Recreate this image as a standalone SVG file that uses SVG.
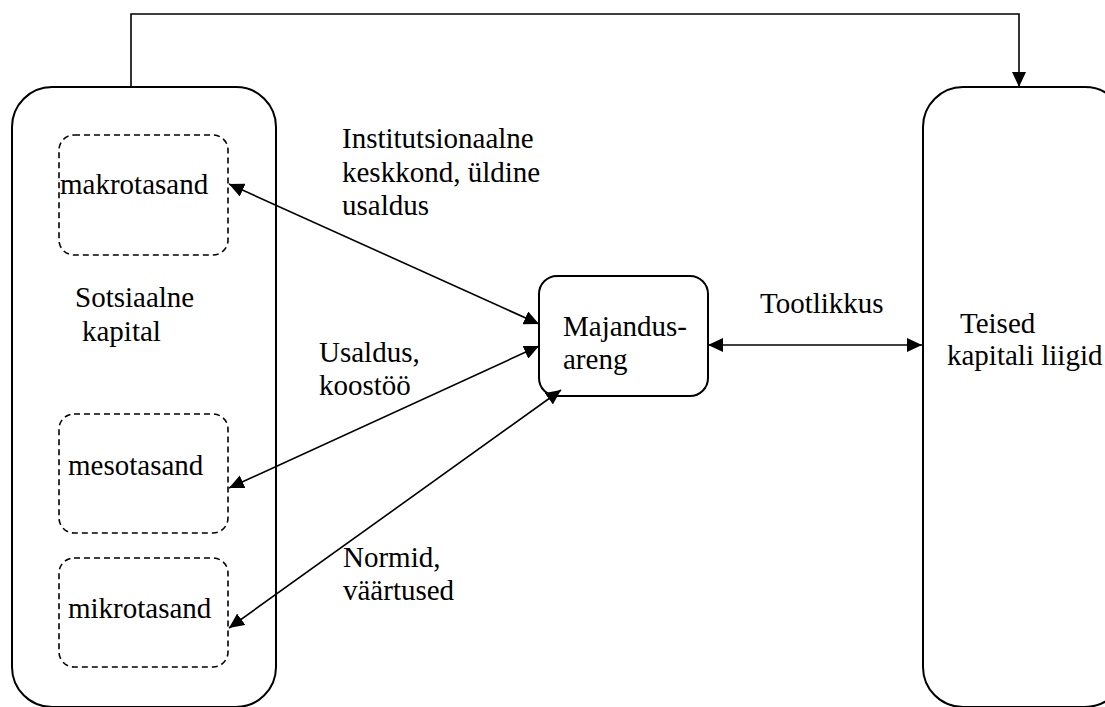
<svg xmlns="http://www.w3.org/2000/svg" width="1105" height="707" viewBox="0 0 1105 707">
<defs>
<marker id="ah" markerUnits="userSpaceOnUse" markerWidth="16" markerHeight="14" refX="15" refY="7" orient="auto-start-reverse">
<path d="M0,0 L15,7 L0,14 Z" fill="#000"/>
</marker>
<style>
.box{fill:none;stroke:#000;stroke-width:2}
.dash{fill:none;stroke:#000;stroke-width:1.6;stroke-dasharray:6 4}
.con{fill:none;stroke:#000;stroke-width:1.6}
.t{font-family:'Liberation Serif','Times New Roman',serif;font-size:29px;fill:#000}
</style>
</defs>
<rect width="1105" height="707" fill="#fff"/>
<g id="sotsiaalne-kapital">
<rect class="box" x="12" y="87" width="264" height="620" rx="40"/>
<text class="t" font-family="Liberation Serif" x="75" y="307">Sotsiaalne</text>
<text class="t" font-family="Liberation Serif" x="82" y="341">kapital</text>
</g>
<g id="makrotasand">
<rect class="dash" x="59" y="135" width="169" height="120" rx="15"/>
<text class="t" font-family="Liberation Serif" x="60" y="194">makrotasand</text>
</g>
<g id="mesotasand">
<rect class="dash" x="59" y="414" width="169" height="119" rx="15"/>
<text class="t" font-family="Liberation Serif" x="68" y="475">mesotasand</text>
</g>
<g id="mikrotasand">
<rect class="dash" x="59" y="558" width="169" height="109" rx="15"/>
<text class="t" font-family="Liberation Serif" x="68" y="618">mikrotasand</text>
</g>
<g id="majandusareng">
<rect class="box" x="539" y="276" width="169" height="120" rx="18"/>
<text class="t" font-family="Liberation Serif" x="563" y="336">Majandus-</text>
<text class="t" font-family="Liberation Serif" x="563" y="369">areng</text>
</g>
<g id="teised-kapitali-liigid">
<rect class="box" x="923" y="87" width="202" height="620" rx="40"/>
<text class="t" font-family="Liberation Serif" x="960" y="333">Teised</text>
<text class="t" font-family="Liberation Serif" x="947" y="365">kapitali liigid</text>
</g>
<g id="connectors">
<path class="con" d="M131,87 V14 H1019 V87" marker-end="url(#ah)"/>
<line class="con" x1="229" y1="184" x2="539" y2="324" marker-start="url(#ah)" marker-end="url(#ah)"/>
<line class="con" x1="229" y1="488" x2="539" y2="346" marker-start="url(#ah)" marker-end="url(#ah)"/>
<line class="con" x1="229" y1="628" x2="561" y2="390" marker-start="url(#ah)" marker-end="url(#ah)"/>
<line class="con" x1="708" y1="345" x2="922" y2="345" marker-start="url(#ah)" marker-end="url(#ah)"/>
<text class="t" font-family="Liberation Serif" x="342" y="148">Institutsionaalne</text>
<text class="t" font-family="Liberation Serif" x="342" y="182">keskkond, üldine</text>
<text class="t" font-family="Liberation Serif" x="342" y="215">usaldus</text>
<text class="t" font-family="Liberation Serif" x="319" y="362">Usaldus,</text>
<text class="t" font-family="Liberation Serif" x="319" y="395">koostöö</text>
<text class="t" font-family="Liberation Serif" x="343" y="567">Normid,</text>
<text class="t" font-family="Liberation Serif" x="343" y="600">väärtused</text>
<text class="t" font-family="Liberation Serif" x="760" y="313">Tootlikkus</text>
</g>
</svg>
